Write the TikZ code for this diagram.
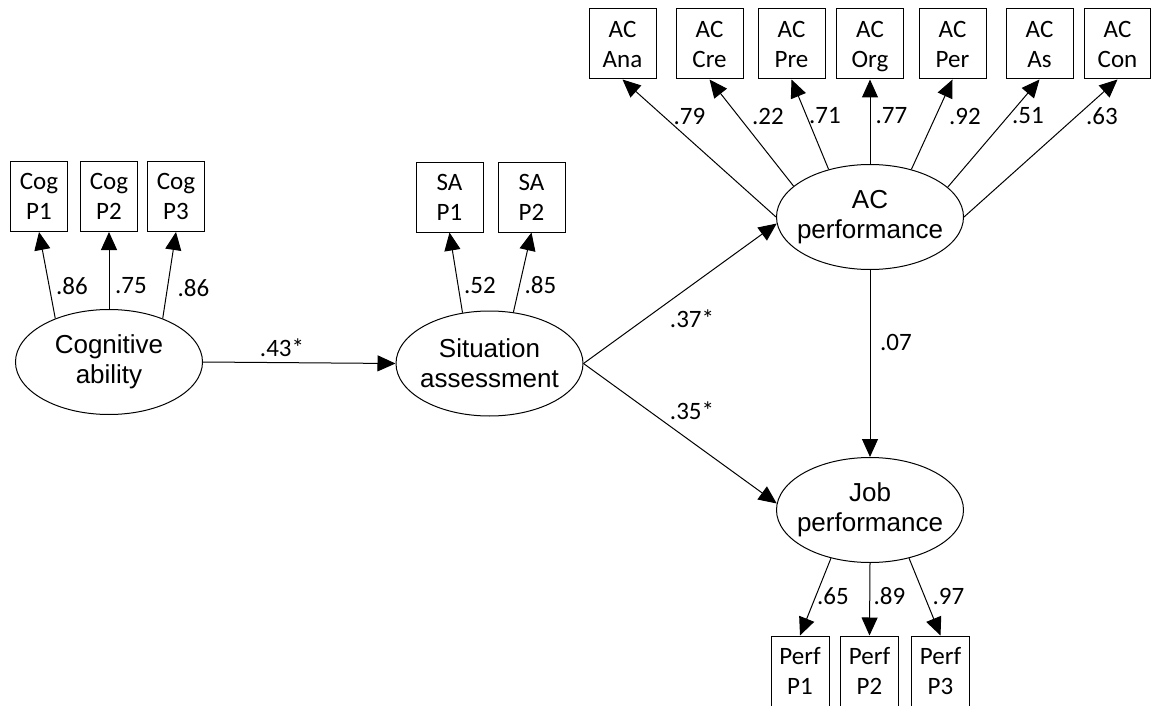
\documentclass[tikz,border=0pt]{standalone}
\usepackage{fontspec}
\setmainfont{Carlito}
\newfontfamily\arialfont{Liberation Sans}
\usetikzlibrary{arrows.meta, shapes.geometric}

\tikzset{
    latent/.style={draw, ellipse, minimum width=187pt, minimum height=105pt,
        inner xsep=-12pt, inner ysep=0pt, align=center,
        font=\arialfont\fontsize{26}{30}\selectfont},
    indic/.style={draw, rectangle, minimum height=70pt, inner sep=0pt,
        text depth=0pt, align=center, font=\fontsize{25}{30}\selectfont},
    coef/.style={inner sep=0pt, font=\fontsize{25}{30}\selectfont},
}

\begin{document}
\begin{tikzpicture}[x=1pt, y=-1pt, line width=1pt, >={Triangle[length=18pt, width=16pt]}]
    \useasboundingbox (0,0) rectangle (1151,706);

    % Variables latentes
    \node[latent] (cog) at (109,362) {Cognitive\\ability};
    \node[latent] (sit) at (489.5,363.5) {Situation\\assessment};
    \node[latent] (ac) at (870,217) {AC\\performance};
    \node[latent] (job) at (870,510) {Job\\performance};

    % Indicateurs cognitifs
    \node[indic, minimum width=57pt] (cogP1) at (39,196.5) {Cog\\P1};
    \node[indic, minimum width=57pt] (cogP2) at (109,196.5) {Cog\\P2};
    \node[indic, minimum width=57pt] (cogP3) at (176,196.5) {Cog\\P3};

    % Indicateurs SA
    \node[indic, minimum width=67pt] (saP1) at (449.5,197) {SA\\P1};
    \node[indic, minimum width=67pt] (saP2) at (531.5,197) {SA\\P2};

    % Indicateurs AC
    \node[indic, minimum width=67pt] (acAna) at (622.5,44) {AC\\Ana};
    \node[indic, minimum width=67pt] (acCre) at (709.5,44) {AC\\Cre};
    \node[indic, minimum width=67pt] (acPre) at (791.5,44) {AC\\Pre};
    \node[indic, minimum width=67pt] (acOrg) at (870,44) {AC\\Org};
    \node[indic, minimum width=67pt] (acPer) at (952.5,44) {AC\\Per};
    \node[indic, minimum width=67pt] (acAs) at (1039.5,44) {AC\\As};
    \node[indic, minimum width=66pt] (acCon) at (1117.5,44) {AC\\Con};

    % Indicateurs performance
    \node[indic, minimum width=58pt] (perfP1) at (800,671) {Perf\\P1};
    \node[indic, minimum width=58pt] (perfP2) at (869.5,671) {Perf\\P2};
    \node[indic, minimum width=58pt] (perfP3) at (940.5,671) {Perf\\P3};

    % Saturations
    \draw[->] (cog.141) -- (cogP1.south) node[coef] (wCog1) at (72,286) {.86};
    \draw[->] (cog.90) -- (cogP2.south) node[coef] (wCog2) at (131,286) {.75};
    \draw[->] (cog.39) -- (cogP3.south) node[coef] (wCog3) at (193.5,288) {.86};

    \draw[->] (sit.118) -- (saP1.south) node[coef] (wSa1) at (480,285) {.52};
    \draw[->] (sit.65) -- (saP2.south) node[coef] (wSa2) at (540.5,285) {.85};

    \draw[->] (ac.180) -- (acAna.south) node[coef] (wAna) at (689.5,116) {.79};
    \draw[->] (ac.158) -- (acCre.south) node[coef] (wCre) at (768,116) {.22};
    \draw[->] (ac.131) -- (acPre.south) node[coef] (wPre) at (825,116) {.71};
    \draw[->] (ac.90) -- (acOrg.south) node[coef] (wOrg) at (891.5,116) {.77};
    \draw[->] (ac.49) -- (acPer.south) node[coef] (wPer) at (965,116) {.92};
    \draw[->] (ac.21) -- (acAs.south) node[coef] (wAs) at (1028,116) {.51};
    \draw[->] (ac.0) -- (acCon.south) node[coef] (wCon) at (1102,116) {.63};

    \draw[->] (job.231) -- (perfP1.north) node[coef] (wPerf1) at (833,596) {.65};
    \draw[->] (job.270) -- (perfP2.north) node[coef] (wPerf2) at (889.5,596) {.89};
    \draw[->] (job.309) -- (perfP3.north) node[coef] (wPerf3) at (948.5,596) {.97};

    % Relations structurelles
    \draw[->] (cog.east) -- (sit.west) node[coef] (bCogSit) at (282,348) {.43*};
    \draw[->] (sit.east) -- (ac.184) node[coef] (bSitAc) at (692,318.5) {.37*};
    \draw[->] (sit.east) -- (job.176) node[coef] (bSitJob) at (692,411) {.35*};
    \draw[->] (ac.south) -- (job.north) node[coef] (bAcJob) at (896,342) {.07};
\end{tikzpicture}
\end{document}
